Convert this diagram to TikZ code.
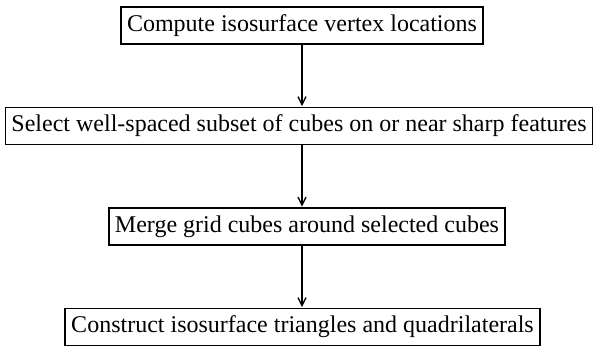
\documentclass[tikz,border=0pt]{standalone}
\usepackage{fontspec}
\setmainfont{Liberation Serif}
\usepackage{tikz}
\usetikzlibrary{arrows,arrows.meta,positioning,shapes}
\tikzset{
    %Define standard arrow tip
    >={Straight Barb[length=8pt,width=8pt]},
    %Define style for boxes
    stage/.style={
   	rectangle,
   	draw=black, line width=1.5pt,
   	minimum height=37pt,
   	inner xsep=6pt,
   	font=\fontsize{24}{28}\selectfont,
   	text centered
   },
    % Define arrow style
    pil/.style={
           ->,
           line width=1.3pt,
           shorten >=0.7pt,}
}
\begin{document}
\begin{tikzpicture}[x=1pt,y=1pt,node distance=62pt]
		\useasboundingbox (0,0) rectangle (595,350);
		\node[stage] (1) at (302,324.5) {Compute isosurface vertex locations};
		\node[stage, below=of 1, xshift=-3pt] (2) {Select well-spaced subset of cubes on or near sharp features};
		\node[stage, below=of 2, xshift=8pt] (3) {Merge grid cubes around selected cubes};
		\node[stage, below=of 3, xshift=-4.5pt] (4) {Construct isosurface triangles and quadrilaterals};
		\draw[pil] (1.south) -- (1.south |- 2.north);
		\draw[pil] (1.south |- 2.south) -- (1.south |- 3.north);
		\draw[pil] (1.south |- 3.south) -- (1.south |- 4.north);
\end{tikzpicture}
\end{document}
